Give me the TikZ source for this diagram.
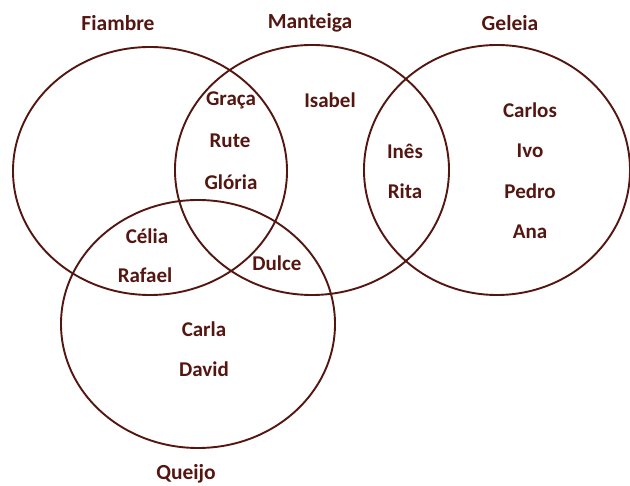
\documentclass[tikz,border=0pt]{standalone}
\usepackage{fontspec}
\setmainfont{Carlito}
\usepackage{tikz}
\usetikzlibrary{positioning}
\definecolor{vennbrown}{RGB}{84,22,16}
\tikzset{
    set/.style={draw=vennbrown, line width=1.9pt},
    setlabel/.style={text=vennbrown, font=\fontsize{21.5}{26}\selectfont\bfseries, inner sep=0pt},
    person/.style={text=vennbrown, font=\fontsize{21}{25}\selectfont\bfseries, inner sep=0pt},
}

\begin{document}
\begin{tikzpicture}[x=1pt, y=-1pt]
		\useasboundingbox (0,0) rectangle (630,486);
		% sets
		\draw[set] (150,171) ellipse [x radius=137, y radius=124];
		\draw[set] (312,170) ellipse [x radius=137, y radius=125];
		\draw[set] (497,170) ellipse [x radius=133, y radius=125];
		\draw[set] (198,324) ellipse [x radius=137, y radius=124];
		%
		\node[setlabel] (fiambre) at (118,23) {Fiambre};
		\node[setlabel] (manteiga) at (310,23) {Manteiga};
		\node[setlabel] (geleia) at (510,23) {Geleia};
		\node[setlabel] (queijo) at (186,474) {Queijo};
		%
		\node[person] (graca) at (231,100) {Graça};
		\node[person] (rute) at (230,141) {Rute};
		\node[person] (gloria) at (231,182) {Glória};
		\node[person] (isabel) at (330,100) {Isabel};
		%
		\node[person] (ines) at (405,151) {Inês};
		\node[person] (rita) at (405,191) {Rita};
		%
		\node[person] (carlos) at (530,110) {Carlos};
		\node[person] (ivo) at (530,151) {Ivo};
		\node[person] (pedro) at (530,191) {Pedro};
		\node[person] (ana) at (530,232) {Ana};
		%
		\node[person] (celia) at (147,236) {Célia};
		\node[person] (rafael) at (145,275) {Rafael};
		\node[person] (dulce) at (277,263) {Dulce};
		\node[person] (carla) at (204,329) {Carla};
		\node[person] (david) at (204,369) {David};
	\end{tikzpicture}
\end{document}
